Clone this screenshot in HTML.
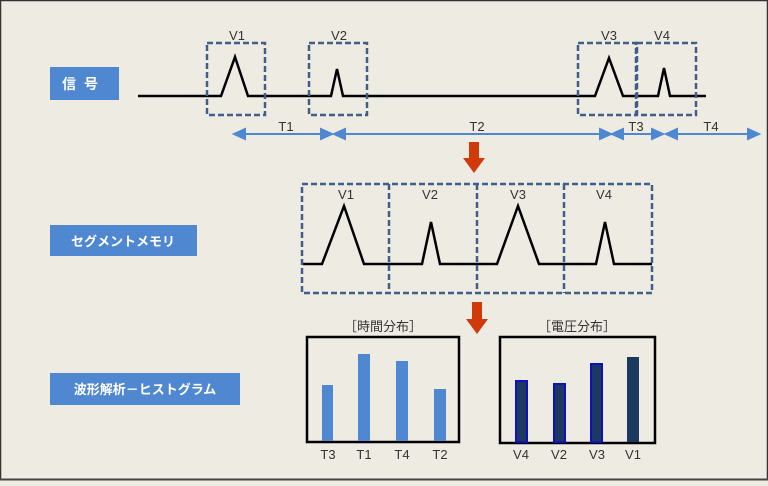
<!DOCTYPE html>
<html><head><meta charset="utf-8"><style>
html,body{margin:0;padding:0;background:#eeebe3;}
body{width:768px;height:481px;overflow:hidden;font-family:"Liberation Sans","Noto Sans CJK JP",sans-serif;}
</style></head><body>
<svg width="768" height="481" xmlns="http://www.w3.org/2000/svg" font-family="Liberation Sans, Noto Sans CJK JP, sans-serif">
<rect x="0.5" y="0.5" width="767" height="479" fill="#eeebe3" stroke="#333" stroke-width="1.5"/>
<line x1="0" y1="479.5" x2="768" y2="479.5" stroke="#444" stroke-width="2"/>
<rect x="50" y="67" width="69" height="33" fill="#4f88d0"/>
<text x="84" y="89" fill="#fff" font-size="14" font-weight="bold" text-anchor="middle" letter-spacing="8">信号</text>
<rect x="50" y="225" width="147" height="31" fill="#4f88d0"/>
<text x="123" y="246" fill="#fff" font-size="13" font-weight="bold" text-anchor="middle">セグメントメモリ</text>
<rect x="50" y="373" width="190" height="32" fill="#4f88d0"/>
<text x="145" y="394" fill="#fff" font-size="13" font-weight="bold" text-anchor="middle">波形解析－ヒストグラム</text>
<polyline points="138,96 221,96 235,57 248,96 331,96 337,69 343,96 595,96 609,58 623,96 658,96 664,68 670,96 706,96" fill="none" stroke="#000" stroke-width="2.5"/>
<g fill="none" stroke="#3f5f8a" stroke-width="2.5" stroke-dasharray="6,3">
<rect x="207" y="43" width="58" height="72"/>
<rect x="309" y="43" width="58" height="72"/>
<rect x="578" y="43" width="58" height="72"/>
<rect x="637" y="43" width="59" height="72"/>
</g>
<g font-size="13" fill="#333" text-anchor="middle">
<text x="237" y="40">V1</text><text x="339" y="40">V2</text><text x="609" y="40">V3</text><text x="662" y="40">V4</text>
<text x="286" y="131">T1</text><text x="477" y="131">T2</text><text x="636" y="131">T3</text><text x="711" y="131">T4</text>
</g>
<g stroke="#4f88d0" stroke-width="2" fill="#4f88d0">
<line x1="240" y1="134" x2="326" y2="134"/><polygon points="234,134 245,129 245,139"/><polygon points="332,134 321,129 321,139"/>
<line x1="340" y1="134" x2="606" y2="134"/><polygon points="334,134 345,129 345,139"/><polygon points="611,134 600,129 600,139"/>
<line x1="618" y1="134" x2="658" y2="134"/><polygon points="612,134 623,129 623,139"/><polygon points="663,134 652,129 652,139"/>
<line x1="672" y1="134" x2="754" y2="134"/><polygon points="666,134 677,129 677,139"/><polygon points="759,134 748,129 748,139"/>
</g>
<g fill="#d03a0a">
<rect x="469" y="142" width="10" height="17"/><polygon points="463,158 485,158 474,173"/>
<rect x="472" y="302" width="10" height="18"/><polygon points="466,319 488,319 477,334"/>
</g>
<polyline points="303,264 322,264 344,206 364,264 422,264 431,222 440,264 497,264 518,206 539,264 596,264 605,222 614,264 652,264" fill="none" stroke="#000" stroke-width="2.5"/>
<g fill="none" stroke="#3f5f8a" stroke-width="2.5" stroke-dasharray="6,3">
<rect x="302" y="184" width="350" height="109"/>
<line x1="389" y1="184" x2="389" y2="293"/><line x1="477" y1="184" x2="477" y2="293"/><line x1="564" y1="184" x2="564" y2="293"/>
</g>
<g font-size="13" fill="#333" text-anchor="middle">
<text x="346" y="199">V1</text><text x="430" y="199">V2</text><text x="518" y="199">V3</text><text x="604" y="199">V4</text>
</g>
<text x="383" y="331" font-size="13" fill="#333" text-anchor="middle">［時間分布］</text>
<text x="577" y="331" font-size="13" fill="#333" text-anchor="middle">［電圧分布］</text>
<rect x="307" y="337" width="152" height="105" fill="none" stroke="#000" stroke-width="2.5"/>
<rect x="500" y="337" width="155" height="106" fill="none" stroke="#000" stroke-width="2.5"/>
<g fill="#4f88d0">
<rect x="322" y="385" width="11" height="56"/><rect x="358" y="354" width="12" height="87"/>
<rect x="396" y="361" width="12" height="80"/><rect x="434" y="389" width="12" height="52"/>
</g>
<g fill="#1c3a60" stroke="#1010c0" stroke-width="2">
<rect x="516" y="381" width="11" height="61"/><rect x="554" y="384" width="11" height="58"/>
<rect x="591" y="364" width="11" height="78"/>
</g>
<rect x="627" y="357" width="12" height="85" fill="#1c3a60"/>
<g font-size="13" fill="#333" text-anchor="middle">
<text x="328" y="459">T3</text><text x="364" y="459">T1</text><text x="402" y="459">T4</text><text x="440" y="459">T2</text>
<text x="521" y="459">V4</text><text x="559" y="459">V2</text><text x="597" y="459">V3</text><text x="633" y="459">V1</text>
</g>
</svg>
</body></html>
